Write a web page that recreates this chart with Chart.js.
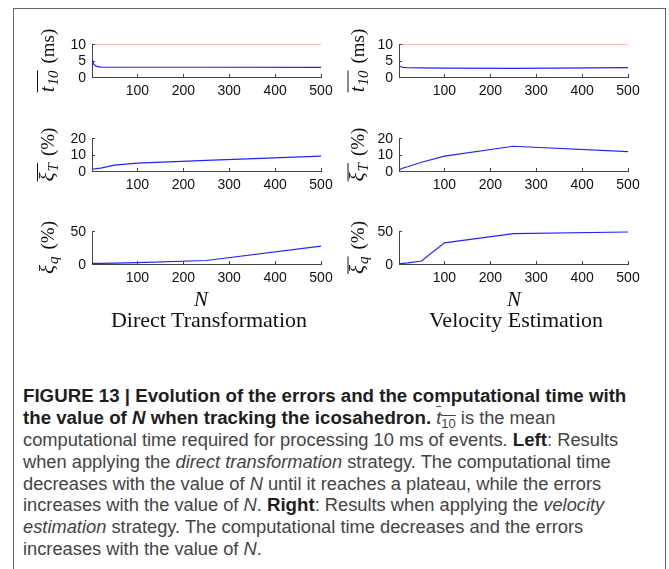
<!DOCTYPE html>
<html>
<head>
<meta charset="utf-8">
<script src="https://cdn.jsdelivr.net/npm/chart.js@4.4.1/dist/chart.umd.min.js"></script>
<style>
  body { margin: 0; background: #fff; width: 669px; height: 569px; position: relative; overflow: hidden; font-family: "Liberation Sans", Arial, sans-serif; }
  #frame { position: absolute; left: 13px; top: 8px; width: 653px; height: 575px; border: 1px solid #666; box-sizing: border-box; }
  .panel { position: absolute; }
  .lbl { position: absolute; font-family: "Liberation Serif", serif; color: #111; transform: translate(-50%, -50%); white-space: nowrap; }
  #caption { position: absolute; left: 23px; top: 385px; font-size: 18.3px; color: #444; white-space: nowrap; }
  #caption div { height: 21.9px; line-height: 21.9px; }
  #caption b { color: #1e1e1e; font-size: 18.7px; }
  #caption .sub { font-size: 13px; position: relative; top: 4px; }
</style>
</head>
<body>
<div id="frame"></div>

<canvas class="panel" id="timeDT" style="left:14px;top:28px" width="327" height="75"></canvas>
<canvas class="panel" id="timeVE" style="left:334px;top:28px" width="314" height="75"></canvas>
<canvas class="panel" id="errTDT" style="left:14px;top:122px" width="327" height="75"></canvas>
<canvas class="panel" id="errTVE" style="left:334px;top:122px" width="314" height="75"></canvas>
<canvas class="panel" id="errQDT" style="left:14px;top:215px" width="327" height="75"></canvas>
<canvas class="panel" id="errQVE" style="left:334px;top:215px" width="314" height="75"></canvas>

<div class="lbl" style="left:201px;top:299px;font-size:21px;font-style:italic">N</div>
<div class="lbl" style="left:514px;top:299px;font-size:21px;font-style:italic">N</div>
<div class="lbl" style="left:209px;top:320px;font-size:22px">Direct Transformation</div>
<div class="lbl" style="left:516px;top:320px;font-size:22px">Velocity Estimation</div>

<div id="caption">
  <div><b>FIGURE 13 | Evolution of the errors and the computational time with</b></div>
  <div><b>the value of <i>N</i> when tracking the icosahedron.</b> <span style="text-decoration:overline"><i>t</i><span class="sub">10</span></span> is the mean</div>
  <div>computational time required for processing 10 ms of events. <b>Left</b>: Results</div>
  <div>when applying the <i>direct transformation</i> strategy. The computational time</div>
  <div>decreases with the value of <i>N</i> until it reaches a plateau, while the errors</div>
  <div>increases with the value of <i>N</i>. <b>Right</b>: Results when applying the <i>velocity</i></div>
  <div><i>estimation</i> strategy. The computational time decreases and the errors</div>
  <div>increases with the value of <i>N</i>.</div>
</div>

<script>
// window size N used for each run
const nValues = [1, 5, 10, 20, 50, 100, 250, 500];
const xTicks = [100, 200, 300, 400, 500];

// mean computational time for 10 ms of events (ms)
const realTimeLimit = [10, 10, 10, 10, 10, 10, 10, 10];
const timeDirect = [5.4, 3.8, 3.3, 3.0, 2.95, 2.95, 2.95, 2.9];
const timeVelocity = [3.5, 3.1, 2.9, 2.8, 2.75, 2.7, 2.6, 2.85];
const timeTicks = [0, 5, 10];

// translation error (%)
const errTDirect = [1.0, 1.2, 1.4, 1.7, 3.6, 4.8, 6.4, 9.0];
const errTVelocity = [0.5, 1.2, 1.8, 2.6, 5.3, 9.0, 15.0, 11.8];
const errTTicks = [0, 10, 20];

// rotation error (%)
const errQDirect = [1.0, 1.0, 1.0, 1.0, 1.2, 2.0, 5.3, 27];
const errQVelocity = [0.2, 0.6, 1.0, 1.6, 4.5, 32, 46, 48.5];
const errQTicks = [0, 50];

const RED = 'rgb(255,112,112)';
const BLUE = 'rgb(35,35,255)';
const AXIS = '#444';
const TICK_FONT = '14px "Liberation Sans", Arial, sans-serif';

// inward tick marks (matlab style) + y tick labels; the y axes are only
// ~33px tall so the labels are placed here from the scale directly
const makeInnerTicks = (yTicks) => ({
  id: 'innerTicks',
  afterDatasetsDraw(chart) {
    const { ctx, chartArea: a, scales: { x, y } } = chart;
    ctx.save();
    ctx.strokeStyle = AXIS;
    ctx.lineWidth = 1;
    ctx.beginPath();
    xTicks.forEach(v => {
      const px = Math.round(x.getPixelForValue(v)) + 0.5;
      ctx.moveTo(px, a.bottom);
      ctx.lineTo(px, a.bottom - 3);
    });
    yTicks.forEach(v => {
      const py = Math.round(y.getPixelForValue(v)) + 0.5;
      ctx.moveTo(a.left, py);
      ctx.lineTo(a.left + 3, py);
    });
    ctx.stroke();
    ctx.fillStyle = '#111';
    ctx.font = TICK_FONT;
    ctx.textAlign = 'right';
    ctx.textBaseline = 'middle';
    for (const v of yTicks) {
      ctx.fillText(String(v), a.left - 6, y.getPixelForValue(v) + 1);
    }
    ctx.restore();
  }
});

// rotated latex-ish y label: overline(sym_sub) (unit)
const makeMathLabel = (label, offset) => ({
  id: 'mathLabel',
  afterDraw(chart) {
    const { ctx, chartArea } = chart;
    const cx = chartArea.left - offset;
    const cy = (chartArea.top + chartArea.bottom) / 2;
    const fSym = 'italic 21px "Liberation Serif"';
    const fSub = 'italic 15px "Liberation Serif"';
    const fUnit = '19px "Liberation Serif"';
    ctx.save();
    ctx.translate(cx, cy);
    ctx.rotate(-Math.PI / 2);
    ctx.fillStyle = '#111';
    ctx.strokeStyle = '#111';
    ctx.textAlign = 'left';
    ctx.textBaseline = 'alphabetic';
    ctx.font = fSym; const w1 = ctx.measureText(label.sym).width;
    ctx.font = fSub; const w2 = ctx.measureText(label.sub).width;
    ctx.font = fUnit; const w3 = ctx.measureText(label.unit).width;
    const gap = 7;
    const total = w1 + 1 + w2 + gap + w3;
    let x = -total / 2;
    const base = 4;
    ctx.font = fSym; ctx.fillText(label.sym, x, base);
    ctx.font = fSub; ctx.fillText(label.sub, x + w1 + 1, base + 4);
    if (label.bar) {
      ctx.lineWidth = 1;
      ctx.beginPath();
      ctx.moveTo(x, base - 16);
      ctx.lineTo(x + w1 + 1 + w2, base - 16);
      ctx.stroke();
    }
    x += w1 + 1 + w2 + gap;
    ctx.font = fUnit; ctx.fillText(label.unit, x, base);
    ctx.restore();
  }
});

const makePanel = (id, series, yMax, yTicks, label, col) => {
  const datasets = series.map(s => ({
    data: nValues.map((n, i) => ({ x: n, y: s.values[i] })),
    borderColor: s.color,
    borderWidth: 1.2,
    pointRadius: 0,
    tension: 0,
    fill: false
  }));
  const tickFont = { family: '"Liberation Sans", Arial, sans-serif', size: 14, lineHeight: 1 };
  return new Chart(document.getElementById(id).getContext('2d'), {
    type: 'line',
    data: { datasets },
    options: {
      responsive: false,
      animation: false,
      events: [],
      layout: { padding: { left: col === 0 ? 40 : 27, right: 20, top: 16, bottom: 0 } },
      plugins: {
        legend: { display: false },
        tooltip: { enabled: false }
      },
      scales: {
        x: {
          type: 'linear',
          min: 1,
          max: 500,
          grid: { display: false, drawTicks: false },
          border: { display: true, color: AXIS, width: 1 },
          ticks: { color: '#111', font: tickFont, padding: 7, maxRotation: 0, autoSkip: false },
          afterBuildTicks: (s) => { s.ticks = xTicks.map(v => ({ value: v })); },
          afterFit: (s) => { s.height = 26; }
        },
        y: {
          type: 'linear',
          min: 0,
          max: yMax,
          grid: { display: false, drawTicks: false },
          border: { display: true, color: AXIS, width: 1 },
          ticks: { display: false },
          afterFit: (s) => { s.width = 38; }
        }
      }
    },
    plugins: [makeInnerTicks(yTicks), makeMathLabel(label, col === 0 ? 42.5 : 39)]
  });
};

makePanel('timeDT', [{ values: realTimeLimit, color: RED }, { values: timeDirect, color: BLUE }], 10, timeTicks,
  { sym: 't', sub: '10', unit: '(ms)', bar: true }, 0);
makePanel('timeVE', [{ values: realTimeLimit, color: RED }, { values: timeVelocity, color: BLUE }], 10, timeTicks,
  { sym: 't', sub: '10', unit: '(ms)', bar: true }, 1);
makePanel('errTDT', [{ values: errTDirect, color: BLUE }], 20, errTTicks,
  { sym: 'ξ', sub: 'T', unit: '(%)', bar: true }, 0);
makePanel('errTVE', [{ values: errTVelocity, color: BLUE }], 20, errTTicks,
  { sym: 'ξ', sub: 'T', unit: '(%)', bar: true }, 1);
makePanel('errQDT', [{ values: errQDirect, color: BLUE }], 50, errQTicks,
  { sym: 'ξ', sub: 'q', unit: '(%)', bar: false }, 0);
makePanel('errQVE', [{ values: errQVelocity, color: BLUE }], 50, errQTicks,
  { sym: 'ξ', sub: 'q', unit: '(%)', bar: true }, 1);
</script>
</body>
</html>
